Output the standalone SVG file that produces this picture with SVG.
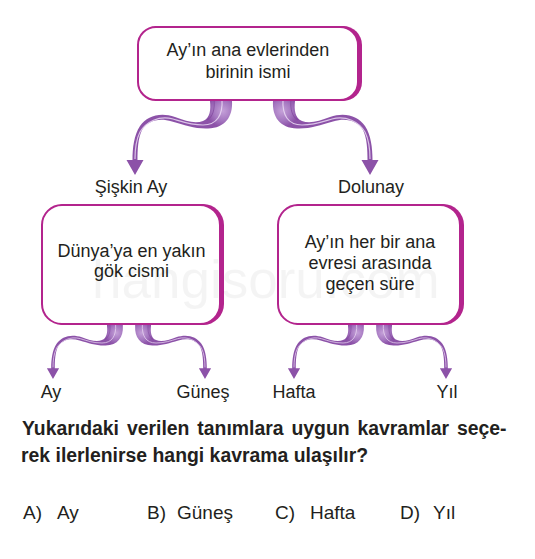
<svg xmlns="http://www.w3.org/2000/svg" xmlns:xlink="http://www.w3.org/1999/xlink" width="535" height="559" viewBox="0 0 535 559">
<style>
.t{font-family:"Liberation Sans",Arial,Helvetica,sans-serif;fill:#231f20}
.c{text-anchor:middle;font-size:18px}
.frame{fill:#fff;stroke:#b3248d;stroke-width:2}
.shadow{fill:#b3248d}
.q{font-size:19.4px;font-weight:bold}
.a{font-size:19px}
</style>
<defs>
<radialGradient id="face" gradientUnits="userSpaceOnUse" cx="88" cy="-64" r="16">
<stop offset="0" stop-color="#c4a0d8"/>
<stop offset="0.6" stop-color="#a577c0"/>
<stop offset="1" stop-color="#8c52a8"/>
</radialGradient>
<g id="ribbon">
<path fill="url(#face)" d="M 97 -78 L 97 -74 C 98 -58 90 -47 73 -46.5 C 60 -46 50 -50 37 -53.5 C 23 -57.5 13 -54 7 -45 C 3 -37 2.5 -25 2.5 -15 L 8.5 -15 L 0 0 L -8.5 -15 L -2.5 -15 C -2.5 -27 -1 -40 5 -49 C 12 -59 25 -63 40 -58 C 51 -54 60 -51 68 -54 C 75 -57 76 -65 75 -74 L 75 -78 Z"/>
<path fill="none" stroke="#ead9f3" stroke-width="1.2" opacity="0.85" d="M 87 -76 C 88 -60 82 -50 68 -50 C 56 -50 48 -53 38 -56 C 24 -60 11 -53 5 -43 C 1 -35 0 -26 0 -16"/>
<path fill="none" stroke="#7a3d96" stroke-width="1" opacity="0.6" d="M 79 -76 C 80 -66 78 -58 72 -55"/>
</g>
</defs>
<rect width="535" height="559" fill="#fff"/>
<g id="connectors">
<use xlink:href="#ribbon" transform="translate(135,175)"/>
<use xlink:href="#ribbon" transform="translate(370,175) scale(-1,1)"/>
<use xlink:href="#ribbon" transform="translate(53,379) scale(0.72)"/>
<use xlink:href="#ribbon" transform="translate(205,379) scale(-0.72,0.72)"/>
<use xlink:href="#ribbon" transform="translate(294,379) scale(0.72)"/>
<use xlink:href="#ribbon" transform="translate(446,379) scale(-0.72,0.72)"/>
</g>
<g id="node-top">
<rect class="shadow" x="140.5" y="26" width="221.5" height="75" rx="19"/>
<rect class="frame" x="138" y="27" width="220" height="73" rx="18"/>
<text class="t c" x="248" y="56">Ay’ın ana evlerinden</text>
<text class="t c" x="248" y="78">birinin ismi</text>
</g>
<g id="node-siskin"><text class="t c" x="131" y="193">Şişkin Ay</text></g>
<g id="node-dolunay"><text class="t c" x="371" y="193">Dolunay</text></g>
<g id="node-left">
<rect class="shadow" x="44.5" y="204" width="179.5" height="121" rx="21"/>
<rect class="frame" x="42" y="205" width="178" height="119" rx="20"/>
<text class="t c" x="131.5" y="257">Dünya’ya en yakın</text>
<text class="t c" x="131.5" y="277">gök cismi</text>
</g>
<g id="node-right">
<rect class="shadow" x="280.5" y="204" width="183.5" height="121" rx="21"/>
<rect class="frame" x="278" y="205" width="182" height="119" rx="20"/>
<text class="t c" x="370" y="248">Ay’ın her bir ana</text>
<text class="t c" x="370" y="269">evresi arasında</text>
<text class="t c" x="370" y="290">geçen süre</text>
</g>
<g id="node-ay"><text class="t c" x="51" y="398">Ay</text></g>
<g id="node-gunes"><text class="t c" x="203" y="398">Güneş</text></g>
<g id="node-hafta"><text class="t c" x="294" y="398">Hafta</text></g>
<g id="node-yil"><text class="t c" x="447" y="398">Yıl</text></g>
<text x="92" y="298" font-family="'Liberation Sans',Arial,sans-serif" font-size="53" fill="#000" fill-opacity="0.045">hangisoru.com</text>
<g id="question">
<text class="t q" x="22" y="435" word-spacing="2.5">Yukarıdaki verilen tanımlara uygun kavramlar seçe-</text>
<text class="t q" x="21" y="462">rek ilerlenirse hangi kavrama ulaşılır?</text>
</g>
<g id="answers">
<text class="t a" x="23" y="519">A)</text><text class="t a" x="57" y="519">Ay</text>
<text class="t a" x="147" y="519">B)</text><text class="t a" x="177" y="519">Güneş</text>
<text class="t a" x="275" y="519">C)</text><text class="t a" x="310" y="519">Hafta</text>
<text class="t a" x="400" y="519">D)</text><text class="t a" x="433" y="519">Yıl</text>
</g>
</svg>
